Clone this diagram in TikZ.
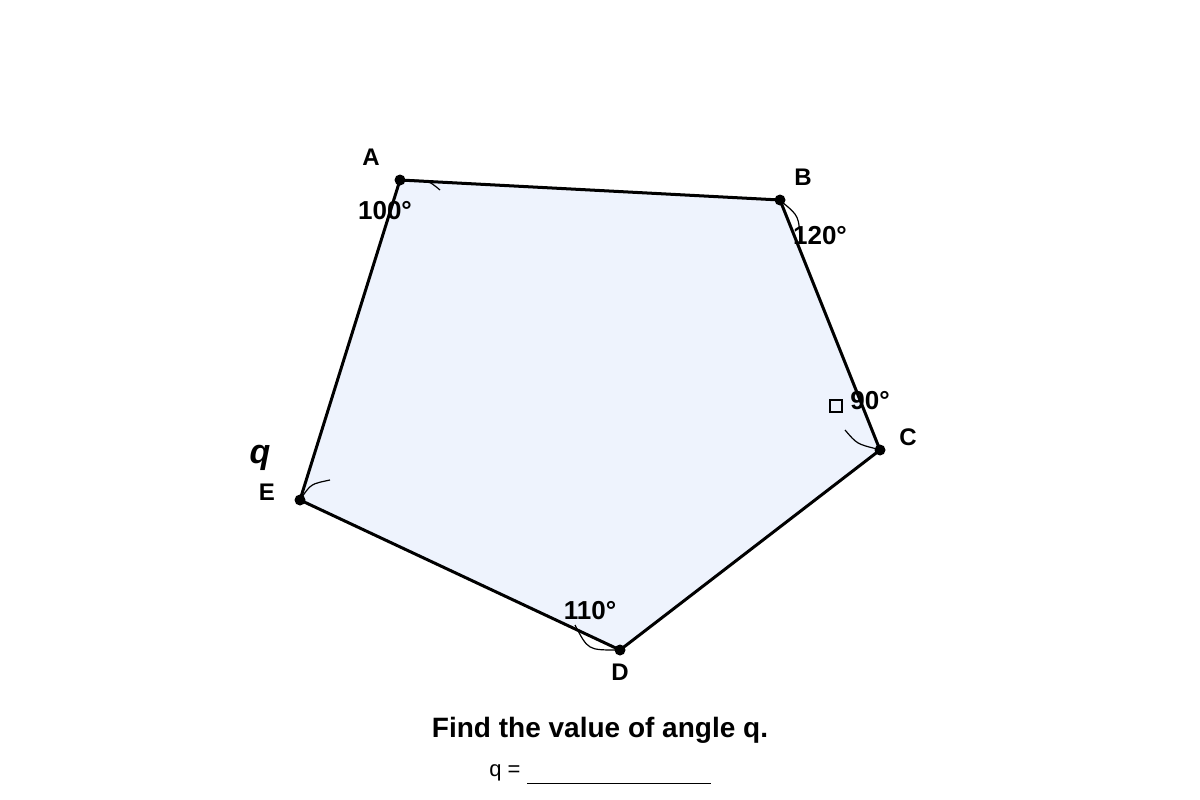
\documentclass[tikz,border=0pt]{standalone}
\usepackage{fontspec}
\setmainfont{Liberation Sans}
\definecolor{polyfill}{HTML}{EEF3FD}
\begin{document}
\begin{tikzpicture}[x=1pt,y=-1pt,
  vlabel/.style={font=\fontsize{24}{26}\selectfont\bfseries},
  alabel/.style={font=\fontsize{26}{28}\selectfont\bfseries},
  arcline/.style={draw=black,line width=1.2pt},
  vdot/.style={circle,fill=black,inner sep=0pt,minimum size=11pt}]
\useasboundingbox (0,0) rectangle (1200,800);
\coordinate (A) at (400,180);
\coordinate (B) at (780,200);
\coordinate (C) at (880,450);
\coordinate (D) at (620,650);
\coordinate (E) at (300,500);
\fill[polyfill] (A) -- (B) -- (C) -- (D) -- (E) -- cycle;
\draw[line width=3pt,line join=round] (A) -- (B) -- (C) -- (D) -- (E) -- cycle;
% angle arcs
\coordinate (a1) at (406,180.5); \coordinate (a2) at (440,190);
\draw[arcline] (a1) .. controls (428,180) .. (a2);
\coordinate (b1) at (782,202); \coordinate (b2) at (800,242);
\draw[arcline] (b1) .. controls (799,216) .. (b2);
\coordinate (c1) at (845,430); \coordinate (c2) at (877,449);
\draw[arcline] (c1) .. controls (857,444) .. (c2);
\coordinate (d1) at (575,625); \coordinate (d2) at (617,650);
\draw[arcline] (d1) .. controls (588,650) .. (d2);
\coordinate (e1) at (302,497); \coordinate (e2) at (330,480);
\draw[arcline] (e1) .. controls (311,484) .. (e2);
% vertex dots
\foreach \p in {A,B,C,D,E} \node[vdot] (dot\p) at (\p) {};
% vertex labels
\node[vlabel] (lA) at (371,157) {A};
\node[vlabel] (lB) at (803,177) {B};
\node[vlabel] (lC) at (908,437) {C};
\node[vlabel] (lD) at (620,672) {D};
\node[vlabel] (lE) at (267,492) {E};
\node[font=\fontsize{34}{36}\selectfont\bfseries\itshape] (lq) at (260,458) {q};
% angle labels
\node[alabel] (t100) at (385,211) {100°};
\node[alabel] (t120) at (820,236) {120°};
\node[alabel] (t90) at (870,401) {90°};
\node[draw=black,line width=1.5pt,minimum size=12pt,inner sep=0pt] (sq) at (836,406) {};
\node[alabel] (t110) at (590,611) {110°};
% bottom text
\node[font=\fontsize{28}{30}\selectfont\bfseries] (title) at (600,730) {Find the value of angle q.};
\node[font=\fontsize{22}{24}\selectfont] (ans) at (505,773) {q =};
\coordinate (u1) at (527,783); \coordinate (u2) at (711,783);
\draw[line width=1pt] (u1) -- (u2);
\end{tikzpicture}
\end{document}
